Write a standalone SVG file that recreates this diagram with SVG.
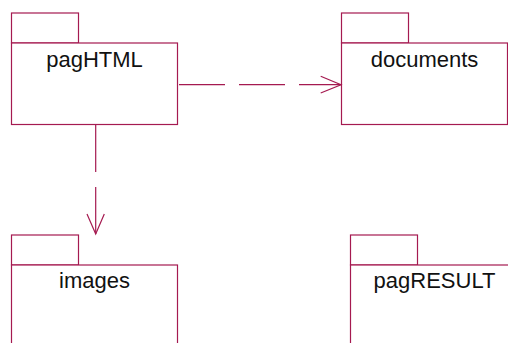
<svg xmlns="http://www.w3.org/2000/svg" width="508" height="343" viewBox="0 0 508 343">
<style>
.pk{fill:#fff;stroke:#a51a50;stroke-width:1.2}
.lbl{font-family:"Liberation Sans",Arial,sans-serif;font-size:22px;fill:#111;text-anchor:middle}
.dep{fill:none;stroke:#a51a50;stroke-width:1.2;stroke-dasharray:46 14}
.ah{fill:none;stroke:#a51a50;stroke-width:1.2}
</style>
<rect width="508" height="343" fill="#fff"/>
<g id="pagHTML">
<rect class="pk" x="11.5" y="13" width="67" height="30"/>
<rect class="pk" x="11.5" y="43" width="166" height="81.5"/>
<text class="lbl" x="94.5" y="67">pagHTML</text>
</g>
<g id="documents">
<rect class="pk" x="341.5" y="13" width="67" height="30"/>
<rect class="pk" x="341.5" y="43" width="166" height="81.5"/>
<text class="lbl" x="424.5" y="67">documents</text>
</g>
<g id="images">
<rect class="pk" x="11.5" y="235" width="67" height="30"/>
<rect class="pk" x="11.5" y="265" width="166" height="90"/>
<text class="lbl" x="94.5" y="288">images</text>
</g>
<g id="pagRESULT">
<rect class="pk" x="350.5" y="235" width="67" height="30"/>
<rect class="pk" x="350.5" y="265" width="168" height="90"/>
<text class="lbl" x="434.5" y="288">pagRESULT</text>
</g>
<g id="connectors">
<path class="dep" d="M179,84.7 H341"/>
<path class="ah" d="M320.7,76.3 L341,84.7 L320.7,93"/>
<path class="dep" d="M95.7,125 V234" style="stroke-dasharray:47 15"/>
<path class="ah" d="M87,214 L95.7,234 L104.3,214"/>
</g>
</svg>
